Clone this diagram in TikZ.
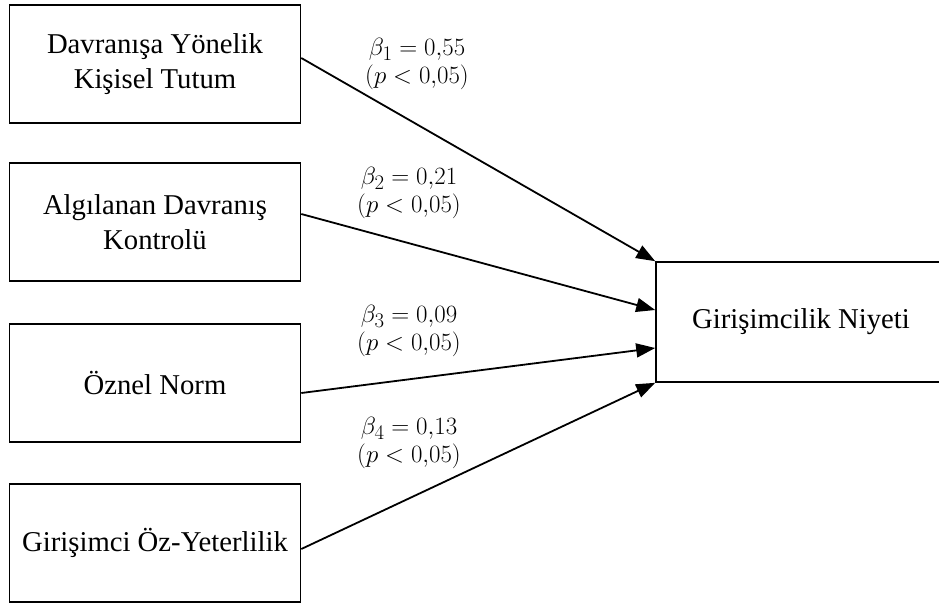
\documentclass[tikz,border=0pt]{standalone}
\usepackage{fontspec}
\setmainfont{Liberation Serif}
\usetikzlibrary{arrows.meta,calc}
\begin{document}
\begin{tikzpicture}[x=1pt,y=-1pt,
  box/.style={draw=black,line width=1.6pt,minimum width=291pt,minimum height=118pt,inner sep=0pt,align=center,font=\fontsize{28.7}{34.5}\selectfont},
  tbox/.style={box,minimum width=290pt,minimum height=120pt},
  lab/.style={align=center,inner sep=0pt,font=\fontsize{28}{28.5}\selectfont},
  arr/.style={line width=1.8pt,-{Triangle[length=19pt,width=14pt]}}]
\useasboundingbox (0,0) rectangle (939,608);
\clip (0,0) rectangle (939,608);
\fill[white] (0,0) rectangle (939,608);
\node[box] (b1) at (155,64) {Davranışa Yönelik\\Kişisel Tutum};
\node[box] (b2) at (155,222) {Algılanan Davranış\\Kontrolü};
\node[box] (b3) at (155,383) {Öznel Norm};
\node[box] (b4) at (155,543) {Girişimci Öz-Yeterlilik};
\node[tbox] (g) at (801,322) {Girişimcilik Niyeti};
\coordinate (s1) at ($(b1.east)+(0,-6)$);
\coordinate (s2) at ($(b2.east)+(0,-8)$);
\coordinate (s3) at ($(b3.east)+(0,10)$);
\coordinate (s4) at ($(b4.east)+(0,6)$);
\coordinate (e2) at ($(g.west)+(0,-12)$);
\coordinate (e3) at ($(g.west)+(0,26)$);
\draw[arr] (s1) -- (g.north west);
\draw[arr] (s2) -- (e2);
\draw[arr] (s3) -- (e3);
\draw[arr] (s4) -- (g.south west);
\node[lab] (l1) at (417,64) {$\beta_1 = 0{,}55$\\$(p < 0{,}05)$};
\node[lab] (l2) at (409,193) {$\beta_2 = 0{,}21$\\$(p < 0{,}05)$};
\node[lab] (l3) at (409,331) {$\beta_3 = 0{,}09$\\$(p < 0{,}05)$};
\node[lab] (l4) at (409,443) {$\beta_4 = 0{,}13$\\$(p < 0{,}05)$};
\end{tikzpicture}
\end{document}
